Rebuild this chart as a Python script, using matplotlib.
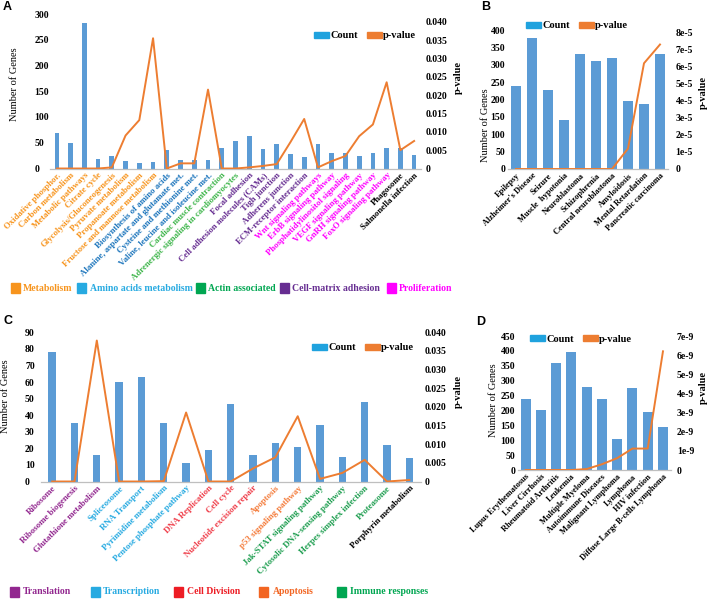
import matplotlib
matplotlib.use('Agg')
import matplotlib.pyplot as plt
from matplotlib.patches import Patch, Rectangle
import numpy as np

plt.rcParams.update({
    'font.family': ['Liberation Serif', 'DejaVu Serif'],
    'font.weight': 'bold',
    'font.size': 7,
})

W, H = 708, 599
BAR = '#5B9BD5'
LINE = '#ED7D31'
LEG_BAR = '#1FA2DE'
AXIS = '#BFBFBF'

# -- Panel A data --
a_terms = ['Oxidative phosphor.', 'Carbon metabolism', 'Metabolic pathways', 'Citrate cycle',
           'Glycolysis/Gluconeogenesis', 'Pyruvate metabolism', 'Propanoate metabolism',
           'Fructose and mannose metabolism', 'Biosynthesis of amino acids',
           'Alanine, aspartate and glutamate met.', 'Cysteine and methionine met.',
           'Valine, leucine and isoleucine met.', 'Cardiac muscle contraction',
           'Adrenergic signaling in cardiomyocytes', 'Focal adhesion',
           'Cell adhesion molecules (CAMs)', 'Tigh junction', 'Adherens junction',
           'ECM-receptor interaction', 'Wnt signaling pathways', 'ErbB signaling pathway',
           'Phosphatidylinositol signaling', 'VEGF signaling pathway', 'GnRH signaling pathway',
           'FoxO signaling pathway', 'Phagosome', 'Salmonella infection']
a_count = [69, 50, 282, 18, 25, 15, 11, 13, 35, 16, 17, 16, 39, 54, 64, 38, 47, 28, 23,
           47, 31, 30, 24, 30, 39, 39, 27]
a_pval = [0, 0, 0, 0, 0.0003, 0.0090, 0.0132, 0.0355, 0, 0.0014, 0.0014, 0.0215, 0, 0,
          0.0003, 0.0007, 0.0012, 0.0072, 0.0135, 0.0003, 0.0020, 0.0034, 0.0088, 0.0120,
          0.0235, 0.0050, 0.0075]
a_group = ['met'] * 8 + ['aa'] * 4 + ['actin'] * 2 + ['cell'] * 5 + ['prolif'] * 6 + ['other'] * 2
a_tick_colors = {'met': '#F7941D', 'aa': '#1C75BC', 'actin': '#3DB54A', 'cell': '#662D91',
                 'prolif': '#FF00FF', 'other': '#000000'}
a_cat_names = ['Metabolism', 'Amino acids metabolism', 'Actin associated',
               'Cell-matrix adhesion', 'Proliferation']
a_cat_colors = ['#F7941D', '#27AAE1', '#00A651', '#662D91', '#FF00FF']

# -- Panel B data --
b_terms = ['Epilepsy', "Alzheimer's Disease", 'Seizure', 'Muscle  hypotonia', 'Neuroblastoma',
           'Schizophrenia', 'Central neuroblastoma', 'Amyloidosis', 'Mental Retardation',
           'Pancreatic carcinoma']
b_count = [240, 377, 228, 140, 332, 310, 320, 196, 188, 331]
b_pval = [0, 0, 0, 0, 0, 0, 0, 1.2e-5, 6.2e-5, 7.3e-5]

# -- Panel C data --
c_terms = ['Ribosome', 'Ribosome biogenesis', 'Glutathione metabolism', 'Spliceosome',
           'RNA Transport', 'Pyrimidine metabolism', 'Pentose phosphate pathway',
           'DNA Replication', 'Cell cycle', 'Nucleotide excision repair', 'Apoptosis',
           'p53 signaling pathway', 'Jak-STAT signaling pathway',
           'Cytosolic DNA-sensing pathway', 'Herpes simplex infection', 'Proteasome',
           'Porphyrin metabolism']
c_count = [78, 35, 16, 60, 63, 35, 11, 19, 47, 16, 23, 21, 34, 15, 48, 22, 14]
c_pval = [0, 0, 0.0378, 0, 0, 0.0001, 0.0185, 0, 0, 0.0035, 0.0065, 0.0175, 0.0007,
          0.0023, 0.0058, 0, 0.0004]
c_group = ['trans'] * 3 + ['script'] * 4 + ['div'] * 3 + ['apop'] * 2 + ['imm'] * 4 + ['other']
c_tick_colors = {'trans': '#92278F', 'script': '#27AAE1', 'div': '#EF3E4A', 'apop': '#F47B3A',
                 'imm': '#1E9E50', 'other': '#000000'}
c_cat_names = ['Translation', 'Transcription', 'Cell Division', 'Apoptosis', 'Immune responses']
c_cat_colors = ['#92278F', '#27AAE1', '#ED1C24', '#F26522', '#00A651']

# -- Panel D data --
d_terms = ['Lupus Erythematosus', 'Liver Cirrhosis', 'Rheumatoid Arthritis', 'Leukemia',
           'Multiple Myeloma', 'Autoimmune Diseases', 'Malignant Lymphoma', 'Lymphoma',
           'HIV infection', 'Diffuse Large B-cells Lymphoma']
d_count = [240, 200, 358, 395, 280, 240, 103, 276, 194, 145]
d_pval = [0, 0, 0, 0, 0.05e-9, 0.3e-9, 0.62e-9, 1.12e-9, 1.12e-9, 6.2e-9]


def px_rect(x0, y0, x1, y1):
    """pixel box (top-left origin) -> figure fraction rect"""
    return [x0 / W, 1 - y1 / H, (x1 - x0) / W, (y1 - y0) / H]


def draw_panel(fig, rect, terms, counts, pvals, colors, bar_w, lticks, ltop, rticks, rlabels,
               rtop, lpad, lha, rpad, fs):
    ax = fig.add_axes(rect)
    x = np.arange(len(terms))
    ax.bar(x, counts, bar_w, color=BAR, zorder=2)
    ax.set_xlim(-0.5, len(terms) - 0.5)
    ax.set_ylim(0, ltop)
    ax.set_yticks(lticks)
    ax.set_yticklabels([str(t) for t in lticks], ha=lha)
    ax.tick_params(axis='y', length=0, pad=lpad, labelsize=7)
    ax.set_xticks(x)
    ax.set_xticklabels(terms, rotation=45, ha='right', va='top', rotation_mode='anchor',
                       fontsize=fs)
    ax.tick_params(axis='x', length=0, pad=2)
    for lab, c in zip(ax.get_xticklabels(), colors):
        lab.set_color(c)
    for s in ['top', 'left', 'right']:
        ax.spines[s].set_visible(False)
    ax.spines['bottom'].set_color(AXIS)
    ax.spines['bottom'].set_linewidth(0.9)

    ax2 = ax.twinx()
    ax2.plot(x, pvals, color=LINE, lw=1.4, zorder=3)
    ax2.set_ylim(0, rtop)
    ax2.set_yticks(rticks)
    ax2.set_yticklabels(rlabels)
    ax2.tick_params(axis='y', length=0, pad=rpad, labelsize=7)
    for s in ['top', 'left', 'right', 'bottom']:
        ax2.spines[s].set_visible(False)
    return ax


def count_legend(fig, cx, cy):
    handles = [Patch(color=LEG_BAR), Patch(color=LINE)]
    fig.legend(handles, ['Count', 'p-value'], ncol=2, loc='center',
               bbox_to_anchor=(cx / W, 1 - cy / H), frameon=False, fontsize=7.5,
               handlelength=1.4, handleheight=0.55, handletextpad=0.15, columnspacing=0.9,
               borderpad=0, borderaxespad=0)


def category_legend(fig, names, colors, sq_x, txt_x, cy):
    for n, c, sx, tx in zip(names, colors, sq_x, txt_x):
        fig.add_artist(Rectangle((sx / W, 1 - (cy + 5) / H), 9 / W, 10 / H, color=c,
                                 transform=fig.transFigure))
        fig.text(tx / W, 1 - cy / H, n, color=c, fontsize=7, va='center', ha='left')


fig = plt.figure(figsize=(W / 100, H / 100), dpi=100)

p_ticks = [0, 0.005, 0.010, 0.015, 0.020, 0.025, 0.030, 0.035, 0.040]
p_labels = ['0', '0.005', '0.010', '0.015', '0.020', '0.025', '0.030', '0.035', '0.040']

# A
draw_panel(fig, px_rect(50, 14, 421, 168.5), a_terms, a_count, a_pval,
           [a_tick_colors[g] for g in a_group], 0.34, list(range(0, 301, 50)), 300,
           p_ticks, p_labels, 0.0421, 11, 'left', 3, 6.3)
count_legend(fig, 365, 36)
fig.text(15 / W, 1 - 84 / H, 'Number of Genes', rotation=90, ha='center', va='center',
         fontsize=7.5, fontweight='normal')
fig.text(458 / W, 1 - 77 / H, 'p-value', rotation=90, ha='center', va='center', fontsize=7.5)
category_legend(fig, a_cat_names, a_cat_colors, [11, 77, 196, 280, 387],
                [23, 90, 208, 292, 399], 288)

# B
draw_panel(fig, px_rect(508, 30, 668, 169), b_terms, b_count, b_pval, ['#000000'] * 10, 0.58,
           list(range(0, 401, 50)), 400, [i * 1e-5 for i in range(9)],
           ['0'] + ['%de-5' % i for i in range(1, 9)], 8.15e-5, 2, 'right', 5.5, 6)
count_legend(fig, 577, 26)
fig.text(486 / W, 1 - 125 / H, 'Number of Genes', rotation=90, ha='center', va='center',
         fontsize=7.5, fontweight='normal')
fig.text(703 / W, 1 - 92 / H, 'p-value', rotation=90, ha='center', va='center', fontsize=7.5)

# C
draw_panel(fig, px_rect(41, 332.3, 420.5, 481.5), c_terms, c_count, c_pval,
           [c_tick_colors[g] for g in c_group], 0.33, list(range(0, 91, 10)), 90,
           p_ticks, p_labels, 0.040, 11.5, 'left', 3, 6.4)
count_legend(fig, 363, 348)
fig.text(6 / W, 1 - 396 / H, 'Number of Genes', rotation=90, ha='center', va='center',
         fontsize=7.5, fontweight='normal')
fig.text(458 / W, 1 - 392 / H, 'p-value', rotation=90, ha='center', va='center', fontsize=7.5)
category_legend(fig, c_cat_names, c_cat_colors, [10, 91, 174, 259, 337],
                [23, 103, 187, 273, 350], 592)

# D
draw_panel(fig, px_rect(518, 336, 670.6, 470), d_terms, d_count, d_pval, ['#000000'] * 10, 0.65,
           list(range(0, 451, 50)), 450, [i * 1e-9 for i in range(8)],
           ['0'] + ['%de-9' % i for i in range(1, 8)], 7e-9, 2, 'right', 4.5, 6)
count_legend(fig, 581, 339)
fig.text(493 / W, 1 - 400 / H, 'Number of Genes', rotation=90, ha='center', va='center',
         fontsize=7.5, fontweight='normal')
fig.text(703.5 / W, 1 - 387 / H, 'p-value', rotation=90, ha='center', va='center', fontsize=7.5)

# panel letters
for letter, (lx, ly) in zip('ABCD', [(3, 7), (481, 7), (4, 321), (476, 322)]):
    fig.text(lx / W, 1 - ly / H, letter, fontsize=9, fontweight='bold', va='center',
             family=['Liberation Sans', 'DejaVu Sans'])

fig.savefig('out.png', dpi=100)
